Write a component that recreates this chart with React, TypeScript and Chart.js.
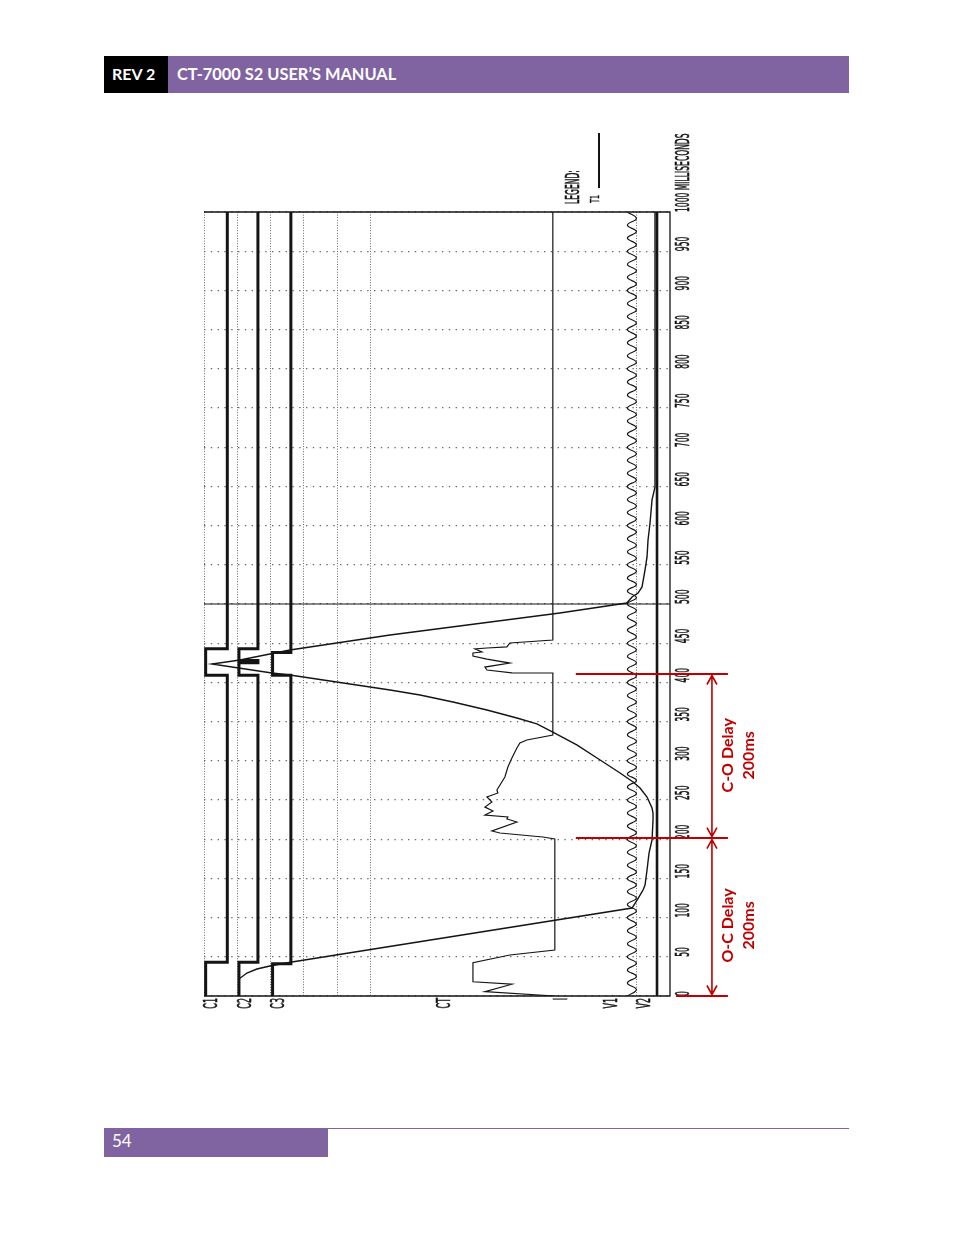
import { useEffect, useRef } from 'react'
import { Chart, registerables } from 'chart.js'

Chart.register(...registerables)

// time axis (ms), drawn vertically
const tickValues = [0, 50, 100, 150, 200, 250, 300, 350, 400, 450, 500, 550, 600, 650, 700, 750, 800, 850, 900, 950, 1000]
const tickLabels = ['0', '50', '100', '150', '200', '250', '300', '350', '400', '450', '500', '550', '600', '650', '700', '750', '800', '850', '900', '950', '1000 MILLISECONDS']

// channel slots across the page (14 slots wide)
const gridSlots = [0, 1, 2, 3, 4, 5, 13]
const channelNames = ['C1', 'C2', 'C3', 'CT', 'I', 'V1', 'V2']
const channelSlots = [0, 1, 2, 7, 10.5, 12, 13]

// contacts
const c1Time = [0, 43, 43, 409, 409, 443, 443, 1000]
const c1Pos = [0.05, 0.05, 0.7, 0.7, 0.05, 0.05, 0.7, 0.7]
const c2Time = [0, 43, 43, 409, 409, 425, 425, 428, 428, 443, 443, 1000]
const c2Pos = [1.05, 1.05, 1.62, 1.62, 1.05, 1.05, 1.62, 1.62, 1.05, 1.05, 1.62, 1.62]
const c3Time = [0, 41, 41, 409, 409, 438, 438, 1000]
const c3Pos = [2.06, 2.06, 2.61, 2.61, 2.06, 2.06, 2.61, 2.61]

// travel T1
const t1Time = [0, 21.7, 29.3, 34.4, 38.3, 43.4, 112.2, 122.4, 128.8, 135.2, 141.6, 160.7, 182.4, 199, 224.5, 233.4,
  239.8, 253.8, 265.3, 273, 284.4, 301, 320.2, 336.7, 347, 354.6, 364.8, 375, 383.9, 390.3, 409.4, 412, 423.5,
  428.6, 441.3, 460.5, 488.5, 501.3, 509, 514, 521.7, 543.4, 560, 581.6, 603.3, 632.7, 649.2, 1000]
const t1Pos = [1.05, 1.05, 1.29, 1.59, 1.98, 2.64, 12.86, 13.01, 13.1, 13.19, 13.25, 13.31, 13.37, 13.46, 13.49, 13.49,
  13.46, 13.31, 13.1, 12.89, 12.5, 11.9, 11.2, 10.48, 10.0, 9.4, 8.5, 7.48, 6.49, 5.59, 2.58, 2.04, 0.24,
  1.08, 2.58, 5.59, 10.69, 12.7, 12.86, 13.04, 13.16, 13.25, 13.31, 13.34, 13.4, 13.46, 13.55, 13.55]

// coil current I
const iTime = [0, 5.5, 15, 18.2, 42.5, 52.3, 58.7, 200.3, 202.8, 207.9, 210.5, 222, 225.8, 228.3, 230.9, 236, 241,
  247.4, 253.8, 259, 262.8, 279.3, 292, 303.6, 316.3, 322.7, 326.5, 332.9, 412, 412.2, 415.8, 419.6, 424.7,
  429.8, 433.7, 437.5, 438.8, 442.6, 443.9, 445.2, 450.3, 454.1, 1000]
const iPos = [10.54, 8.44, 9.25, 8.08, 8.08, 9.19, 10.54, 10.54, 10.18, 8.89, 8.65, 9.4, 9.1, 9.13, 8.44, 8.68, 8.44,
  8.65, 8.5, 8.83, 8.8, 9.04, 9.13, 9.25, 9.4, 9.49, 9.7, 10.48, 10.48, 9.25, 8.5, 8.44, 9.19,
  8.5, 8.08, 8.08, 8.35, 8.14, 8.5, 9.1, 9.19, 10.48, 10.48]

// V1 (60 Hz wave), peaks and troughs
const v1Time = [
  0, 8.3, 16.7, 25, 33.3, 41.7, 50, 58.3, 66.7, 75, 83.3, 91.7,
  100, 108.3, 116.7, 125, 133.3, 141.7, 150, 158.3, 166.7, 175, 183.3, 191.7,
  200, 208.3, 216.7, 225, 233.3, 241.7, 250, 258.3, 266.7, 275, 283.3, 291.7,
  300, 308.3, 316.7, 325, 333.3, 341.7, 350, 358.3, 366.7, 375, 383.3, 391.7,
  400, 408.3, 416.7, 425, 433.3, 441.7, 450, 458.3, 466.7, 475, 483.3, 491.7,
  500, 508.3, 516.7, 525, 533.3, 541.7, 550, 558.3, 566.7, 575, 583.3, 591.7,
  600, 608.3, 616.7, 625, 633.3, 641.7, 650, 658.3, 666.7, 675, 683.3, 691.7,
  700, 708.3, 716.7, 725, 733.3, 741.7, 750, 758.3, 766.7, 775, 783.3, 791.7,
  800, 808.3, 816.7, 825, 833.3, 841.7, 850, 858.3, 866.7, 875, 883.3, 891.7,
  900, 908.3, 916.7, 925, 933.3, 941.7, 950, 958.3, 966.7, 975, 983.3, 991.7,
  1000,
]
const v1Pos = [
  12.72, 12.99, 12.72, 12.99, 12.72, 12.99, 12.72, 12.99, 12.72, 12.99, 12.72, 12.99,
  12.72, 12.99, 12.72, 12.99, 12.72, 12.99, 12.72, 12.99, 12.72, 12.99, 12.72, 12.99,
  12.72, 12.99, 12.72, 12.99, 12.72, 12.99, 12.72, 12.99, 12.72, 12.99, 12.72, 12.99,
  12.72, 12.99, 12.72, 12.99, 12.72, 12.99, 12.72, 12.99, 12.72, 12.99, 12.72, 12.99,
  12.72, 12.99, 12.72, 12.99, 12.72, 12.99, 12.72, 12.99, 12.72, 12.99, 12.72, 12.99,
  12.72, 12.99, 12.72, 12.99, 12.72, 12.99, 12.72, 12.99, 12.72, 12.99, 12.72, 12.99,
  12.72, 12.99, 12.72, 12.99, 12.72, 12.99, 12.72, 12.99, 12.72, 12.99, 12.72, 12.99,
  12.72, 12.99, 12.72, 12.99, 12.72, 12.99, 12.72, 12.99, 12.72, 12.99, 12.72, 12.99,
  12.72, 12.99, 12.72, 12.99, 12.72, 12.99, 12.72, 12.99, 12.72, 12.99, 12.72, 12.99,
  12.72, 12.99, 12.72, 12.99, 12.72, 12.99, 12.72, 12.99, 12.72, 12.99, 12.72, 12.99,
  12.72,
]

// V2 and cursor
const v2Time = [0, 1000]
const v2Pos = [13.61, 13.61]
const cursorTime = [500, 500]
const cursorPos = [0, 14]

// red delay markers added in the manual
const markerTimes = [0, 201.5, 410.7]
const delayLabels = ['O-C Delay', 'C-O Delay']
const delayValues = ['200ms', '200ms']
const delayLabelTimes = [90, 307]

const PURPLE = '#8064A2'
const RED = '#C00000'
const INK = '#141414'
const PRINT_FONT = '19px "DejaVu Sans"'

const pts = (t: number[], p: number[]) => t.map((v, i) => ({ x: p[i], y: v }))

function vText(ctx: CanvasRenderingContext2D, text: string, x: number, y: number,
  align: CanvasTextAlign, baseline: CanvasTextBaseline, sx: number, bold = 0) {
  ctx.save()
  ctx.translate(x, y)
  ctx.rotate(-Math.PI / 2)
  ctx.scale(sx, 1)
  ctx.textAlign = align
  ctx.textBaseline = baseline
  ctx.fillText(text, 0, 0)
  if (bold) {
    ctx.lineWidth = bold
    ctx.strokeStyle = ctx.fillStyle
    ctx.strokeText(text, 0, 0)
  }
  ctx.restore()
}

const overlay = {
  id: 'overlay',
  afterDatasetsDraw(chart: any) {
    const { ctx, chartArea: a, scales } = chart
    const x = scales.x
    const y = scales.y
    ctx.save()
    // frame
    ctx.strokeStyle = INK
    ctx.lineWidth = 1.3
    ctx.beginPath()
    ctx.moveTo(a.left, a.top)
    ctx.lineTo(a.right, a.top)
    ctx.lineTo(a.right, a.bottom)
    ctx.lineTo(a.left, a.bottom)
    ctx.stroke()

    // printer labels
    ctx.fillStyle = INK
    ctx.font = PRINT_FONT
    tickValues.forEach((v, i) => {
      vText(ctx, tickLabels[i], a.right + 5, y.getPixelForValue(v), 'left', 'top', 0.4, 0.6)
    })
    channelNames.forEach((n, i) => {
      vText(ctx, n, x.getPixelForValue(channelSlots[i]) - 1, a.bottom + 2, 'right', 'top', 0.42, 0.6)
    })
    // legend, just above the plot
    vText(ctx, 'LEGEND:', a.left + 361, a.top - 8, 'left', 'top', 0.4, 0.6)
    ctx.font = '13px "DejaVu Sans"'
    vText(ctx, 'T1', a.left + 385, a.top - 9, 'left', 'top', 0.5, 0.4)
    ctx.lineWidth = 2
    ctx.beginPath()
    ctx.moveTo(a.left + 395, a.top - 24)
    ctx.lineTo(a.left + 395, a.top - 79)
    ctx.stroke()

    // red delay annotations
    ctx.strokeStyle = RED
    ctx.fillStyle = RED
    ctx.lineWidth = 2
    const xEnd = x.getPixelForValue(15.74)
    const xArrow = x.getPixelForValue(15.26)
    markerTimes.forEach((t, i) => {
      const py = y.getPixelForValue(t)
      const x0 = x.getPixelForValue(i === 0 ? 14.18 : 11.17)
      ctx.beginPath()
      ctx.moveTo(x0, py)
      ctx.lineTo(xEnd, py)
      ctx.stroke()
    })
    for (let i = 0; i < markerTimes.length - 1; i++) {
      const yb = y.getPixelForValue(markerTimes[i]) - 1.5
      const yt = y.getPixelForValue(markerTimes[i + 1]) + 1.5
      ctx.lineWidth = 1.6
      ctx.beginPath()
      ctx.moveTo(xArrow, yb)
      ctx.lineTo(xArrow, yt)
      ctx.moveTo(xArrow - 5, yt + 9)
      ctx.lineTo(xArrow, yt)
      ctx.lineTo(xArrow + 5, yt + 9)
      ctx.moveTo(xArrow - 5, yb - 9)
      ctx.lineTo(xArrow, yb)
      ctx.lineTo(xArrow + 5, yb - 9)
      ctx.stroke()
      ctx.font = 'bold 16px Lato'
      const ly = y.getPixelForValue(delayLabelTimes[i])
      vText(ctx, delayLabels[i], x.getPixelForValue(15.74), ly, 'center', 'middle', 1)
      vText(ctx, delayValues[i], x.getPixelForValue(16.36), ly, 'center', 'middle', 1)
    }
    ctx.restore()
  },
}

function TimingChart() {
  const chartRef = useRef<HTMLCanvasElement>(null)
  const chartInstance = useRef<Chart | null>(null)

  useEffect(() => {
    if (!chartRef.current) return
    if (chartInstance.current) chartInstance.current.destroy()
    const ctx = chartRef.current.getContext('2d')
    if (!ctx) return

    const trace = (label: string, t: number[], p: number[], width: number, extra: any = {}) => ({
      label,
      data: pts(t, p),
      showLine: true,
      borderColor: INK,
      backgroundColor: INK,
      borderWidth: width,
      pointRadius: 0,
      tension: 0,
      ...extra,
    })

    chartInstance.current = new Chart(ctx, {
      type: 'scatter',
      data: {
        datasets: [
          trace('C1', c1Time, c1Pos, 3, { borderJoinStyle: 'miter' }),
          trace('C2', c2Time, c2Pos, 3, { borderJoinStyle: 'miter' }),
          trace('C3', c3Time, c3Pos, 3, { borderJoinStyle: 'miter' }),
          trace('cursor', cursorTime, cursorPos, 1),
          trace('V1', v1Time, v1Pos, 1.2, { tension: 0.45 }),
          trace('V2', v2Time, v2Pos, 2.6),
          trace('I', iTime, iPos, 1.2),
          trace('T1', t1Time, t1Pos, 1.4),
        ],
      },
      options: {
        responsive: false,
        animation: false,
        layout: { padding: { left: 54, top: 102, right: 130, bottom: 54 } },
        plugins: { legend: { display: false }, tooltip: { enabled: false } },
        scales: {
          x: {
            type: 'linear',
            min: 0,
            max: 14,
            afterBuildTicks: (s: any) => {
              s.ticks = gridSlots.map((v) => ({ value: v }))
            },
            ticks: { display: false },
            grid: { color: '#6a6a6a', lineWidth: 1, drawTicks: false },
            border: { display: false, dash: [1, 1.6] },
          },
          y: {
            type: 'linear',
            min: 0,
            max: 1000,
            ticks: { display: false, stepSize: 50 },
            grid: { color: '#6a6a6a', lineWidth: 1.2, drawTicks: false },
            border: { display: false, dash: [1.4, 5.4] },
          },
        },
      },
      plugins: [overlay],
    } as any)

    return () => {
      if (chartInstance.current) {
        chartInstance.current.destroy()
        chartInstance.current = null
      }
    }
  }, [])

  return (
    <canvas
      ref={chartRef}
      width={650}
      height={940}
      style={{ position: 'absolute', left: 150, top: 110, width: 650, height: 940 }}
    />
  )
}

export default function App() {
  return (
    <div style={{ position: 'absolute', left: 0, top: 0, width: 954, height: 1235, background: '#fff', fontFamily: 'Lato, sans-serif' }}>
      <div style={{ position: 'absolute', left: 104, top: 56, width: 64, height: 37, background: '#000' }} />
      <div style={{ position: 'absolute', left: 168, top: 56, width: 681, height: 37, background: PURPLE }} />
      <div style={{ position: 'absolute', left: 112, top: 55, height: 37, lineHeight: '37px', color: '#fff', fontWeight: 700, fontSize: 16 }}>
        REV 2
      </div>
      <div style={{ position: 'absolute', left: 177, top: 55, height: 37, lineHeight: '37px', color: '#fff', fontWeight: 700, fontSize: 16.4 }}>
        CT-7000 S2 USER’S MANUAL
      </div>
      <TimingChart />
      <div style={{ position: 'absolute', left: 328, top: 1128, width: 521, height: 1, background: PURPLE }} />
      <div style={{ position: 'absolute', left: 104, top: 1128, width: 224, height: 29, background: PURPLE }} />
      <div style={{ position: 'absolute', left: 112, top: 1128, height: 25, lineHeight: '25px', color: '#fff', fontSize: 17 }}>
        54
      </div>
    </div>
  )
}
